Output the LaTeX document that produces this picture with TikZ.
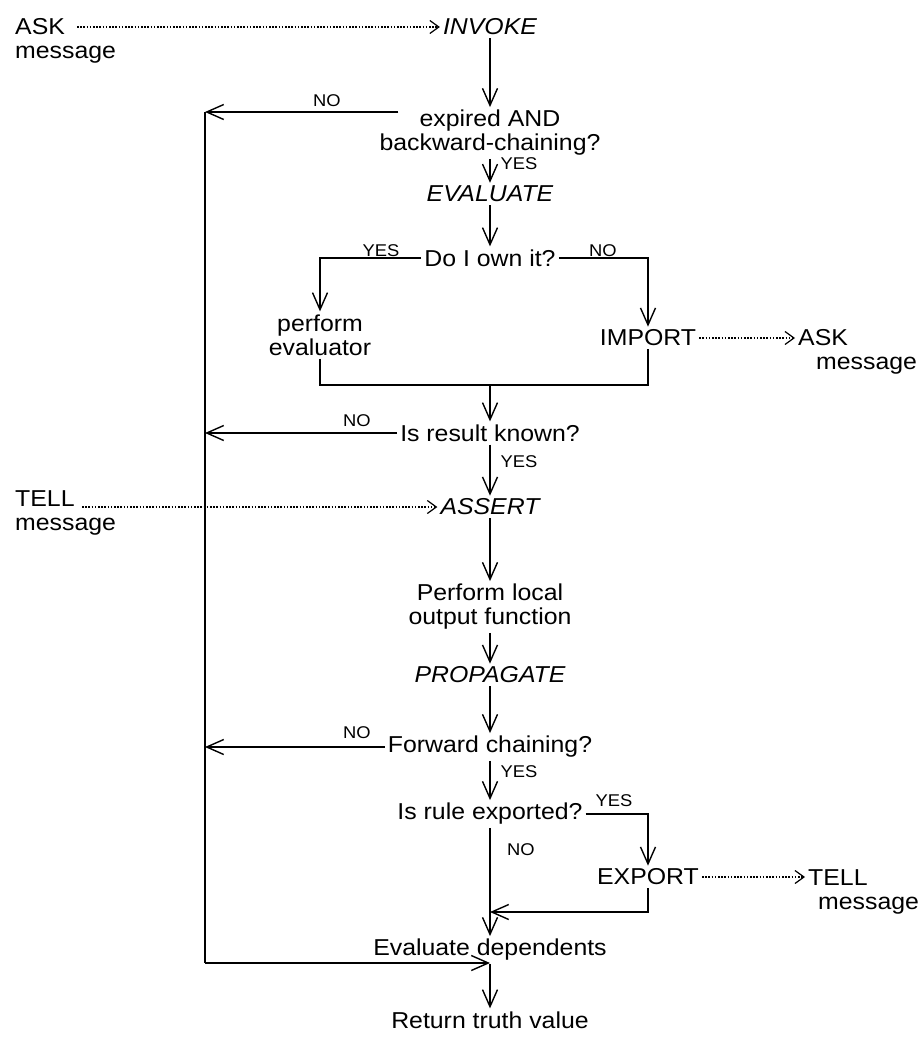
\documentclass[tikz,border=0pt]{standalone}
\usepackage{fontspec}
\setmainfont[FakeStretch=1.08]{Liberation Sans}
\usetikzlibrary{arrows.meta}
\begin{document}
\begin{tikzpicture}[x=1pt,y=-1pt,
  txt/.style={inner sep=3pt, align=center, font=\fontsize{23}{24}\selectfont},
  msg/.style={inner sep=3pt, align=left, anchor=north west, font=\fontsize{23}{24}\selectfont},
  lbl/.style={inner sep=0pt, font=\fontsize{17}{19}\selectfont},
  arr/.style={line width=1.4pt, -{Straight Barb[length=17pt,width=15pt,line width=1.4pt]}},
  ln/.style={line width=1.4pt},
  dotarr/.style={line width=1.2pt, dash pattern=on 1.6pt off 1.6pt, -{Straight Barb[length=9pt,width=13pt,line width=1.2pt]}}
]
\useasboundingbox (0,0) rectangle (920,1047);

% nodes
\node[msg] (askL) at (12,15) {ASK\\message};
\node[txt] (invoke) at (490,27) {\itshape INVOKE};
\node[txt] (exp) at (490,133) {expired AND\\backward-chaining?};
\node[txt] (evaluate) at (490,194) {\itshape EVALUATE};
\node[txt] (own) at (490,258) {Do I own it?};
\node[txt] (perf) at (320,335) {perform\\evaluator};
\node[txt] (import) at (648,338) {IMPORT};
\node[msg] (askR) at (795,326) {ASK\\\hspace*{18pt}message};
\node[txt] (known) at (490,433) {Is result known?};
\node[msg] (tellL) at (12,487) {TELL\\message};
\node[txt] (assert) at (490,507) {\itshape ASSERT};
\node[txt] (local) at (490,607) {Perform local\\output function};
\node[txt] (prop) at (490,675) {\itshape PROPAGATE};
\node[txt] (fwd) at (490,747) {Forward chaining?};
\node[txt] (exported) at (490,814) {Is rule exported?};
\node[txt] (export) at (648,877) {EXPORT};
\node[msg] (tellR) at (805,866) {TELL\\\hspace*{10pt}message};
\node[txt] (evald) at (490,950) {Evaluate dependents};
\node[txt] (ret) at (490,1020) {Return truth value};

% helper coordinates
\coordinate (Ltop) at (205,112);
\coordinate (Lbot) at (205,963);
\coordinate (m1) at (490,385);
\coordinate (m2) at (490,912);

% labels
\node[lbl] (l1) at (327,101) {NO};
\node[lbl] (l2) at (519,164) {YES};
\node[lbl] (l3) at (381,251) {YES};
\node[lbl] (l4) at (603,251) {NO};
\node[lbl] (l5) at (357,421) {NO};
\node[lbl] (l6) at (519,462) {YES};
\node[lbl] (l7) at (357,733) {NO};
\node[lbl] (l8) at (519,772) {YES};
\node[lbl] (l9) at (614,801) {YES};
\node[lbl] (l10) at (521,850) {NO};

% dotted message arrows
\draw[dotarr] ([xshift=65pt,yshift=-12pt]askL.north west) -- (invoke.west);
\draw[dotarr] ([xshift=70pt,yshift=-20pt]tellL.north west) -- (assert.west);
\draw[dotarr] (import.east) -- (import.east -| askR.north west);
\draw[dotarr] (export.east) -- (export.east -| tellR.north west);

% main flow
\draw[arr] (invoke) -- (exp);
\draw[arr] (exp) -- (evaluate);
\draw[arr] (evaluate) -- (own);
\draw[arr] (own.west) -| (perf.north);
\draw[arr] (own.east) -| (import.north);
\draw[ln] (perf.south) |- (m1) -| (import.south);
\draw[arr] (m1) -- (known);
\draw[arr] (known) -- (assert);
\draw[arr] (assert) -- (local);
\draw[arr] (local) -- (prop);
\draw[arr] (prop) -- (fwd);
\draw[arr] (fwd) -- (exported);
\draw[arr] (exported.east) -| (export.north);
\draw[arr] (exported.south) -- (evald.north);
\draw[arr] (export.south) |- (m2);
\draw[arr] (evald) -- (ret);

% NO returns
\draw[arr] ([xshift=22pt]Ltop -| exp.west) -- (Ltop);
\draw[arr] (known.west) -- (known.west -| Ltop);
\draw[arr] (fwd.west) -- (fwd.west -| Ltop);
\draw[ln] (Ltop) -- (Lbot);
\draw[arr] (Lbot) -- (Lbot -| ret);
\end{tikzpicture}
\end{document}
